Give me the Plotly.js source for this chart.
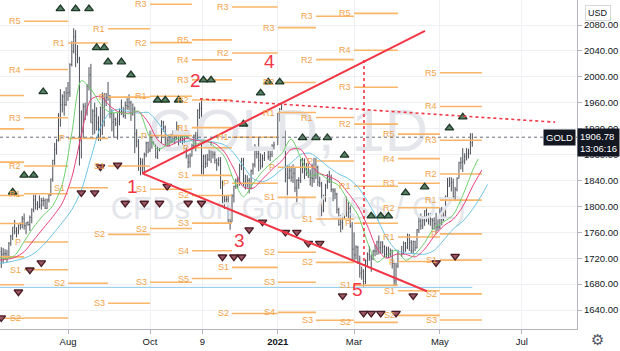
<!DOCTYPE html>
<html><head><meta charset="utf-8">
<script src="https://cdn.plot.ly/plotly-3.0.1.min.js"></script>
<style>html,body{margin:0;padding:0;background:#fff;overflow:hidden}#chart{width:620px;height:351px}</style>
</head><body><div id="chart"></div>
<script>
// ---------- daily bars (GOLD CFD, 1D) ----------
const barDates = [
'2020-06-12','2020-06-15','2020-06-16','2020-06-17','2020-06-18','2020-06-19','2020-06-22','2020-06-23','2020-06-24','2020-06-25','2020-06-26','2020-06-29','2020-06-30',
'2020-07-01','2020-07-02','2020-07-03','2020-07-06','2020-07-07','2020-07-08','2020-07-09','2020-07-10','2020-07-13','2020-07-14','2020-07-15','2020-07-16','2020-07-17','2020-07-20','2020-07-21','2020-07-22','2020-07-23','2020-07-24','2020-07-27','2020-07-28','2020-07-29','2020-07-30','2020-07-31',
'2020-08-03','2020-08-04','2020-08-05','2020-08-06','2020-08-07','2020-08-10','2020-08-11','2020-08-12','2020-08-13','2020-08-14','2020-08-17','2020-08-18','2020-08-19','2020-08-20','2020-08-21','2020-08-24','2020-08-25','2020-08-26','2020-08-27','2020-08-28','2020-08-31',
'2020-09-01','2020-09-02','2020-09-03','2020-09-04','2020-09-07','2020-09-08','2020-09-09','2020-09-10','2020-09-11','2020-09-14','2020-09-15','2020-09-16','2020-09-17','2020-09-18','2020-09-21','2020-09-22','2020-09-23','2020-09-24','2020-09-25','2020-09-28','2020-09-29','2020-09-30',
'2020-10-01','2020-10-02','2020-10-05','2020-10-06','2020-10-07','2020-10-08','2020-10-09','2020-10-12','2020-10-13','2020-10-14','2020-10-15','2020-10-16','2020-10-19','2020-10-20','2020-10-21','2020-10-22','2020-10-23','2020-10-26','2020-10-27','2020-10-28','2020-10-29','2020-10-30',
'2020-11-02','2020-11-03','2020-11-04','2020-11-05','2020-11-06','2020-11-09','2020-11-10','2020-11-11','2020-11-12','2020-11-13','2020-11-16','2020-11-17','2020-11-18','2020-11-19','2020-11-20','2020-11-23','2020-11-24','2020-11-25','2020-11-26','2020-11-27','2020-11-30',
'2020-12-01','2020-12-02','2020-12-03','2020-12-04','2020-12-07','2020-12-08','2020-12-09','2020-12-10','2020-12-11','2020-12-14','2020-12-15','2020-12-16','2020-12-17','2020-12-18','2020-12-21','2020-12-22','2020-12-23','2020-12-24','2020-12-28','2020-12-29','2020-12-30','2020-12-31',
'2021-01-04','2021-01-05','2021-01-06','2021-01-07','2021-01-08','2021-01-11','2021-01-12','2021-01-13','2021-01-14','2021-01-15','2021-01-18','2021-01-19','2021-01-20','2021-01-21','2021-01-22','2021-01-25','2021-01-26','2021-01-27','2021-01-28','2021-01-29',
'2021-02-01','2021-02-02','2021-02-03','2021-02-04','2021-02-05','2021-02-08','2021-02-09','2021-02-10','2021-02-11','2021-02-12','2021-02-15','2021-02-16','2021-02-17','2021-02-18','2021-02-19','2021-02-22','2021-02-23','2021-02-24','2021-02-25','2021-02-26',
'2021-03-01','2021-03-02','2021-03-03','2021-03-04','2021-03-05','2021-03-08','2021-03-09','2021-03-10','2021-03-11','2021-03-12','2021-03-15','2021-03-16','2021-03-17','2021-03-18','2021-03-19','2021-03-22','2021-03-23','2021-03-24','2021-03-25','2021-03-26','2021-03-29','2021-03-30','2021-03-31',
'2021-04-01','2021-04-05','2021-04-06','2021-04-07','2021-04-08','2021-04-09','2021-04-12','2021-04-13','2021-04-14','2021-04-15','2021-04-16','2021-04-19','2021-04-20','2021-04-21','2021-04-22','2021-04-23','2021-04-26','2021-04-27','2021-04-28','2021-04-29','2021-04-30',
'2021-05-03','2021-05-04','2021-05-05','2021-05-06','2021-05-07','2021-05-10','2021-05-11','2021-05-12','2021-05-13','2021-05-14','2021-05-17','2021-05-18','2021-05-19','2021-05-20','2021-05-21','2021-05-24','2021-05-25','2021-05-26'];
const barOpen = [
1728,1730,1726,1727,1727,1722,1743,1754,1768,1761,1763,1771,1772,
1781,1770,1775,1772,1783,1795,1810,1803,1799,1802,1809,1809,1797,1810,1818,1842,1871,1888,1902,1941,1957,1970,1957,
1975,1976,2019,2039,2062,2035,2028,1911,1915,1954,1944,1985,2003,1929,1947,1940,1929,1907,1953,1929,1964,
1968,1970,1943,1930,1934,1928,1931,1946,1946,1940,1956,1954,1960,1943,1950,1912,1900,1863,1868,1861,1880,1898,
1887,1906,1899,1913,1877,1888,1894,1930,1922,1892,1902,1908,1900,1904,1907,1924,1904,1902,1902,1908,1878,1868,
1878,1894,1909,1904,1948,1951,1862,1877,1866,1873,1888,1887,1880,1871,1866,1871,1837,1805,1810,1811,1788,
1776,1816,1831,1840,1839,1862,1871,1838,1836,1840,1828,1855,1864,1886,1881,1871,1862,1874,1876,1877,1880,1893,
1895,1943,1950,1918,1913,1849,1844,1855,1845,1851,1828,1840,1840,1871,1871,1855,1856,1850,1844,1843,
1848,1860,1837,1835,1794,1814,1832,1838,1842,1826,1824,1819,1795,1772,1775,1784,1809,1806,1797,1770,
1734,1725,1737,1714,1697,1700,1684,1716,1726,1722,1719,1731,1731,1745,1736,1745,1738,1726,1734,1726,1732,1712,1685,
1708,1728,1728,1743,1737,1756,1744,1732,1746,1736,1764,1777,1770,1778,1793,1783,1777,1780,1778,1773,1768,
1768,1792,1779,1785,1815,1831,1836,1837,1815,1826,1843,1867,1868,1870,1877,1881,1882,1898];
const barHigh = [
1744,1737,1736,1734,1733,1745,1756,1768,1779,1768,1772,1775,1785,
1789,1775,1777,1786,1797,1818,1818,1808,1817,1813,1814,1812,1812,1820,1843,1872,1898,1904,1944,1981,1973,1978,1984,
1992,2021,2055,2075,2072,2049,2031,1948,1959,1960,1989,2015,2020,1950,1960,1953,1939,1954,1976,1975,1975,
1992,1972,1950,1945,1937,1944,1951,1965,1953,1962,1967,1973,1963,1959,1954,1919,1904,1875,1874,1883,1900,1900,
1917,1916,1918,1921,1895,1900,1933,1932,1925,1908,1911,1912,1917,1913,1931,1925,1913,1912,1911,1911,1880,1882,
1897,1911,1915,1950,1960,1966,1880,1880,1881,1892,1900,1893,1885,1874,1876,1876,1840,1816,1816,1816,1790,
1819,1832,1843,1846,1866,1875,1875,1849,1848,1844,1857,1867,1896,1889,1907,1882,1880,1884,1889,1886,1896,1900,
1944,1952,1960,1927,1917,1864,1863,1862,1865,1860,1842,1845,1873,1875,1874,1867,1867,1857,1866,1875,
1875,1863,1846,1838,1818,1835,1850,1855,1849,1828,1828,1821,1798,1787,1789,1812,1815,1806,1801,1776,
1760,1740,1739,1724,1707,1703,1718,1729,1739,1726,1733,1741,1747,1755,1746,1746,1740,1738,1738,1735,1733,1713,1713,
1733,1739,1746,1745,1758,1757,1748,1747,1747,1765,1784,1789,1785,1794,1797,1790,1790,1782,1783,1790,1780,
1798,1799,1793,1817,1844,1845,1845,1843,1830,1845,1869,1876,1890,1882,1890,1889,1913,1913];
const barLow = [
1725,1705,1712,1718,1714,1720,1739,1748,1757,1752,1757,1764,1766,
1764,1757,1770,1762,1774,1791,1795,1794,1797,1795,1800,1796,1796,1806,1816,1838,1864,1880,1900,1923,1945,1940,1955,
1963,1969,2016,2036,2015,2021,1863,1874,1905,1933,1940,1979,1929,1910,1912,1917,1901,1901,1910,1923,1955,
1963,1936,1916,1906,1924,1903,1925,1941,1937,1935,1949,1948,1932,1940,1882,1891,1855,1848,1850,1848,1876,1882,
1884,1889,1895,1874,1873,1885,1892,1915,1887,1890,1892,1897,1898,1896,1902,1894,1898,1894,1898,1874,1859,1860,
1877,1888,1885,1902,1935,1850,1849,1859,1861,1870,1867,1874,1866,1855,1862,1827,1800,1796,1805,1775,1764,
1776,1806,1827,1828,1832,1856,1831,1826,1829,1820,1826,1849,1860,1874,1854,1857,1860,1870,1872,1870,1876,1888,
1895,1931,1902,1907,1837,1817,1842,1838,1836,1822,1803,1827,1836,1851,1842,1847,1844,1832,1830,1836,
1842,1831,1830,1785,1791,1807,1827,1836,1822,1808,1811,1789,1770,1760,1764,1781,1784,1782,1767,1717,
1717,1718,1711,1690,1687,1676,1680,1708,1716,1699,1717,1723,1725,1726,1727,1727,1721,1721,1720,1722,1704,1677,1677,
1705,1722,1726,1730,1734,1731,1727,1726,1731,1735,1759,1764,1765,1770,1776,1772,1770,1764,1764,1757,1762,
1765,1771,1777,1783,1813,1830,1823,1812,1808,1823,1843,1857,1853,1865,1871,1874,1880,1892];
const barClose = [
1730,1726,1727,1727,1722,1743,1754,1768,1761,1763,1771,1772,1781,
1770,1775,1772,1783,1795,1810,1803,1799,1802,1809,1809,1797,1810,1818,1842,1871,1888,1902,1941,1957,1970,1957,1975,
1976,2019,2039,2062,2035,2028,1911,1915,1954,1944,1985,2003,1929,1947,1940,1929,1907,1953,1929,1964,1968,
1970,1943,1930,1934,1928,1931,1946,1946,1940,1956,1954,1960,1943,1950,1912,1900,1863,1868,1861,1880,1898,1887,
1906,1899,1913,1877,1888,1894,1930,1922,1892,1902,1908,1900,1904,1907,1924,1904,1902,1902,1908,1878,1868,1878,
1894,1909,1904,1948,1951,1862,1877,1866,1873,1888,1887,1880,1871,1866,1871,1837,1805,1810,1811,1788,1776,
1816,1831,1840,1839,1862,1871,1838,1836,1840,1828,1855,1864,1886,1881,1871,1862,1874,1876,1877,1880,1893,1895,
1943,1950,1918,1913,1849,1844,1855,1845,1851,1828,1840,1840,1871,1871,1855,1856,1850,1844,1843,1848,
1860,1837,1835,1794,1814,1832,1838,1842,1826,1824,1819,1795,1772,1775,1784,1809,1806,1797,1770,1734,
1725,1737,1714,1697,1700,1684,1716,1726,1722,1719,1731,1731,1745,1736,1745,1738,1726,1734,1726,1732,1712,1685,1708,
1728,1728,1743,1737,1756,1744,1732,1746,1736,1764,1777,1770,1778,1793,1783,1777,1780,1778,1773,1768,1768,
1792,1779,1785,1815,1831,1836,1837,1815,1826,1843,1867,1868,1870,1877,1881,1882,1898,1906.78];
const lastPrice = 1906.78;
const symbolName = 'GOLD';
const countdown = '13:06:16';

// ---------- Alligator (weekly vertices) ----------
const gatorDates = ['2020-06-12','2020-06-17','2020-06-24','2020-07-01','2020-07-08','2020-07-15','2020-07-22','2020-07-29','2020-08-05','2020-08-12','2020-08-19',
'2020-08-26','2020-09-02','2020-09-09','2020-09-16','2020-09-23','2020-09-30','2020-10-07','2020-10-14','2020-10-21','2020-10-28',
'2020-11-04','2020-11-11','2020-11-18','2020-11-25','2020-12-02','2020-12-09','2020-12-16','2020-12-23','2020-12-30','2021-01-06',
'2021-01-13','2021-01-20','2021-01-27','2021-02-03','2021-02-10','2021-02-17','2021-02-24','2021-03-03','2021-03-10','2021-03-17',
'2021-03-24','2021-03-31','2021-04-07','2021-04-14','2021-04-21','2021-04-28','2021-05-05','2021-05-12','2021-05-19','2021-05-26'];
const lipsVals = [1722,1719,1724,1746,1768,1786,1801,1834,1913,1994,1981,1958,1945,1945,1943,1947,1912,1888,1895,1904,1908,
1896,1902,1892,1877,1840,1815,1835,1854,1868,1881,1904,1875,1847,1850,1840,1832,1808,1787,1745,1714,
1724,1732,1717,1726,1744,1767,1776,1787,1817,1854];
const teethVals = [1717,1718,1721,1730,1748,1766,1784,1805,1845,1910,1965,1970,1955,1945,1944,1946,1930,1903,1893,1899,1905,
1902,1900,1897,1884,1858,1830,1828,1842,1857,1870,1888,1888,1865,1851,1846,1838,1820,1800,1770,1735,
1720,1726,1726,1722,1734,1754,1770,1780,1800,1830];
const jawVals = [1712,1713,1716,1720,1727,1740,1757,1775,1795,1825,1875,1922,1945,1950,1946,1944,1945,1930,1910,1900,1900,
1903,1902,1899,1895,1882,1862,1843,1838,1845,1857,1867,1880,1882,1872,1860,1850,1843,1830,1808,1782,
1752,1733,1728,1727,1726,1732,1748,1765,1777,1795];
const lipsTailDates = ['2021-05-31'], lipsTail = [1873];
const teethTailDates = ['2021-06-02'], teethTail = [1856];
const jawTailDates = ['2021-06-02','2021-06-07'], jawTail = [1818,1834];

// ---------- Monthly pivot points (traditional) ----------
const pivotStart = ['2020-06-01','2020-07-01','2020-08-03','2020-09-01','2020-10-01','2020-11-02','2020-12-01','2021-01-04','2021-02-01','2021-03-01','2021-04-01','2021-05-03'];
const pivotEnd   = ['2020-07-01','2020-08-03','2020-09-01','2020-10-01','2020-11-02','2020-12-01','2021-01-04','2021-02-01','2021-03-01','2021-04-01','2021-05-03','2021-06-02'];
const pivotP  = [1722.1,1745,1905,1968.7,1909.3,1890.6,1835.7,1860.3,1870,1774,1714.8,1757.5];
const pivotR1 = [1773.6,1819.5,2052.3,2074.2,1969.9,1921.6,1906.8,1944.9,1937.1,1831,1752.8,1809.6];
const pivotR2 = [1816.8,1862.3,null,null,2052.8,1964.3,2036.7,1991.3,2026.5,1927,1797.8,1850];
const pivotR3 = [1868.3,1936.8,null,null,2112,1995.3,2107.8,2075.9,2093.6,1984,1835.8,1902.1];
const pivotR4 = [1919.7,2011.3,null,null,null,2026.2,null,null,null,2041,1873.7,1954.2];
const pivotR5 = [1971.1,2085.8,null,null,null,2057.1,null,null,null,2098,1911.6,2006.3];
const pivotS1 = [1678.9,1702.2,1828.7,1862.3,1826.4,1847.9,1705.8,1813.9,1780.6,1678,1669.8,1717.1];
const pivotS2 = [1627.4,1627.7,1681.4,1756.8,1765.8,1816.9,1634.7,1729.3,1713.5,1621,1631.8,1665];
const pivotS3 = [null,null,null,1650.4,1682.9,1774.2,null,1682.9,1624.1,null,null,1624.6];
const pivotS4 = [null,null,null,null,null,1731.4,null,1636.4,null,null,null,null];
const pivotS5 = [null,null,null,null,null,1688.6,null,null,null,null,null,null];
const pivotNames = ['P','R1','R2','R3','R4','R5','S1','S2','S3','S4','S5'];

// ---------- Fractal markers ----------
const upDates = ['2020-07-28','2020-08-07','2020-08-18','2020-08-24','2020-08-28','2020-09-01','2020-09-10','2020-09-17','2020-07-15',
'2020-10-07','2020-10-13','2020-10-22','2020-11-10','2020-11-16','2020-12-22','2020-12-28','2021-01-05','2020-12-09',
'2021-01-21','2021-02-01','2021-02-09','2021-02-22','2021-03-12','2021-03-19','2021-03-25','2021-04-07','2021-04-21',
'2021-05-10','2021-05-19','2020-07-01','2020-07-08','2020-06-23'];
const upPrices = [2105,2105,2105,2045,2045,2023,2023,2003,1977,1964,1964,1964,1995,1995,1975,1992,1992,1927,
1906,1906,1906,1879,1785,1785,1785,1821,1830,1921,1938,1848,1848,1822];
const downDates = ['2020-08-26','2020-09-08','2020-08-12','2020-08-21','2020-10-14','2020-09-14','2020-09-28','2020-10-08','2020-10-29',
'2020-11-09','2020-12-14','2020-12-23','2021-01-08','2021-01-18','2021-01-26','2021-02-03','2020-11-24','2020-12-02','2020-12-08',
'2021-02-19','2021-03-08','2021-03-12','2021-03-19','2021-03-31','2021-04-29','2021-05-13','2021-04-13','2020-07-06','2020-07-14',
'2020-06-26','2020-06-15'];
const downPrices = [1861,1864,1821,1821,1831,1805,1805,1805,1805,1805,1764,1776,1760,1760,1743,1743,1722,1722,1722,
1662,1635,1635,1635,1635,1713,1723,1662,1702,1713,1668,1628];

// ---------- Drawings ----------
const triUpperX = ['2020-09-25','2021-04-21 05:00'], triUpperY = [1851,2071];
const triLowerX = ['2020-09-25','2021-04-22 06:00'], triLowerY = [1851,1669];
const resistX = ['2020-11-06 05:00','2021-07-26 10:00'], resistY = [1966,1930];
const vLineX = ['2021-03-08 05:00','2021-03-08 05:00'], vLineY = [2026,1708];
const hLineX = ['2020-06-01','2021-05-26'], hLineY = [1675,1675];
const waveText = ['1','2','3','4','5'];
const waveX = ['2020-09-18','2020-11-04','2020-12-04 17:00','2020-12-28 21:00','2021-03-02 14:00'];
const waveY = [1830,1995,1748,2023,1672];
const watermark = ['GOLD, 1D','CFDs on Gold (US$ / OZ)'];

// ---------- Axes ----------
const xTickVals = ['2020-08-03','2020-10-01','2020-11-09 12:00','2021-01-04','2021-03-01','2021-05-03','2021-07-01'];
const xTickText = ['Aug','Oct','9','<b>2021</b>','Mar','May','Jul'];
const priceTicks = [1640,1680,1720,1760,1800,1840,1880,1920,1960,2000,2040,2080,2120];

// ======================================================
const FONT = 'Liberation Sans, Arial, sans-serif';
const RED = '#f23645';
const ORANGE_LINE = '#f9b568';
const ORANGE_TXT = '#f2a34a';
const xRange = ['2020-06-12 08:10','2021-08-10 21:36'];
const yRange = [1610.7, 2118.6];

const pivotLevels = [pivotP,pivotR1,pivotR2,pivotR3,pivotR4,pivotR5,pivotS1,pivotS2,pivotS3,pivotS4,pivotS5];
const pvx = [], pvy = [];
const annotations = [];
pivotLevels.forEach((arr, li) => {
  arr.forEach((v, i) => {
    if (v === null) return;
    pvx.push(pivotStart[i], pivotEnd[i], null);
    pvy.push(v, v, null);
    if (v > yRange[0] + 2 && v < yRange[1] - 2) {
      annotations.push({x: pivotStart[i], y: v, xref:'x', yref:'y', text: pivotNames[li], showarrow:false,
        xanchor:'right', yanchor:'middle', xshift:-1, font:{family:FONT, size:9, color:ORANGE_TXT}});
    }
  });
});

const wmDate = '2021-01-11 10:00';

const traces = [
  {type:'scatter', mode:'text', x:[wmDate, wmDate], y:[1908, 1792], text:watermark,
   textfont:{family:FONT, size:[60,31], color:'#e4e6eb'}, hoverinfo:'skip', cliponaxis:false},
  {type:'scatter', mode:'lines', x:pvx, y:pvy, line:{color:ORANGE_LINE, width:1.6}, hoverinfo:'skip', connectgaps:false},
  {type:'scatter', mode:'lines', x:hLineX, y:hLineY, line:{color:'#8cc8ee', width:1}, hoverinfo:'skip'},
  {type:'ohlc', x:barDates, open:barOpen, high:barHigh, low:barLow, close:barClose, tickwidth:0.3,
   increasing:{line:{color:'#4c4f58', width:1}}, decreasing:{line:{color:'#4c4f58', width:1}}, hoverinfo:'skip'},
  {type:'scatter', mode:'lines', x:gatorDates.concat(jawTailDates), y:jawVals.concat(jawTail),
   line:{color:'#6cc4e4', width:1, shape:'spline', smoothing:0.8}, hoverinfo:'skip'},
  {type:'scatter', mode:'lines', x:gatorDates.concat(teethTailDates), y:teethVals.concat(teethTail),
   line:{color:'#ea3f7d', width:1, shape:'spline', smoothing:0.8}, hoverinfo:'skip'},
  {type:'scatter', mode:'lines', x:gatorDates.concat(lipsTailDates), y:lipsVals.concat(lipsTail),
   line:{color:'#6ccf6c', width:1, shape:'spline', smoothing:0.8}, hoverinfo:'skip'},
  {type:'scatter', mode:'markers', x:upDates, y:upPrices,
   marker:{symbol:'triangle-up', size:7.5, color:'#557f62', line:{color:'#203828', width:1.3}}, hoverinfo:'skip'},
  {type:'scatter', mode:'markers', x:downDates, y:downPrices,
   marker:{symbol:'triangle-down', size:7.5, color:'#9a5862', line:{color:'#4a1c25', width:1.3}}, hoverinfo:'skip'},
  {type:'scatter', mode:'lines', x:triUpperX, y:triUpperY, line:{color:RED, width:2}, hoverinfo:'skip'},
  {type:'scatter', mode:'lines', x:triLowerX, y:triLowerY, line:{color:RED, width:2}, hoverinfo:'skip'},
  {type:'scatter', mode:'lines', x:resistX, y:resistY, line:{color:RED, width:1.6, dash:'dot'}, hoverinfo:'skip'},
  {type:'scatter', mode:'lines', x:vLineX, y:vLineY, line:{color:RED, width:1.6, dash:'dot'}, hoverinfo:'skip'}
];

waveText.forEach((t, i) => {
  annotations.push({x: waveX[i], y: waveY[i], xref:'x', yref:'y', text:t, showarrow:false,
    xanchor:'center', yanchor:'middle', font:{family:FONT, size:19, color:RED}});
});

annotations.push({xref:'paper', yref:'y', x:1, y:lastPrice, xanchor:'right', yanchor:'middle', xshift:-1,
  text:symbolName, showarrow:false, bgcolor:'#131722', borderpad:2, font:{family:FONT, size:9.5, color:'#ffffff'}});
annotations.push({xref:'paper', yref:'y', x:1, y:lastPrice, xanchor:'left', yanchor:'top', yshift:9, xshift:0,
  text:lastPrice.toFixed(2) + '<br>' + countdown, showarrow:false, align:'left', bgcolor:'#131722', borderpad:2,
  font:{family:FONT, size:9.5, color:'#ffffff'}});
annotations.push({xref:'paper', yref:'paper', x:598/577, y:1-13/329, xanchor:'center', yanchor:'middle',
  text:'USD', showarrow:false, bgcolor:'#ffffff', bordercolor:'#d6d8de', borderwidth:1, borderpad:2,
  font:{family:FONT, size:9, color:'#131722'}});
annotations.push({xref:'paper', yref:'paper', x:597/577, y:-11/329, xanchor:'center', yanchor:'middle',
  text:'\u2699', showarrow:false, font:{family:'DejaVu Sans, sans-serif', size:15, color:'#50535e'}});

const layout = {
  width:620, height:351,
  margin:{l:0, r:43, t:0, b:22, pad:0},
  paper_bgcolor:'#ffffff', plot_bgcolor:'#ffffff',
  showlegend:false,
  font:{family:FONT, size:9.5, color:'#131722'},
  xaxis:{type:'date', range:xRange, rangebreaks:[{bounds:['sat','mon']}], rangeslider:{visible:false},
    tickmode:'array', tickvals:xTickVals, ticktext:xTickText, tickangle:0,
    showgrid:true, gridcolor:'#eef0f4', gridwidth:1, zeroline:false,
    ticks:'outside', ticklen:4, tickcolor:'#b2b5be', showline:true, linecolor:'#b2b5be', linewidth:1,
    tickfont:{family:FONT, size:9.5, color:'#131722'}, fixedrange:true},
  yaxis:{side:'right', range:yRange, tickmode:'array', tickvals:priceTicks,
    ticktext:priceTicks.map(v => v.toFixed(2)),
    showgrid:true, gridcolor:'#eef0f4', gridwidth:1, zeroline:false,
    ticks:'outside', ticklen:4, tickcolor:'#b2b5be', showline:true, linecolor:'#b2b5be', linewidth:1,
    tickfont:{family:FONT, size:9.5, color:'#131722'}, fixedrange:true},
  shapes:[
    {type:'line', xref:'paper', yref:'y', x0:0, x1:1, y0:lastPrice, y1:lastPrice,
     line:{color:'#6a6d78', width:1, dash:'dot'}}
  ],
  annotations:annotations
};

Plotly.newPlot('chart', traces, layout, {staticPlot:true, displayModeBar:false});
</script>
</body></html>
